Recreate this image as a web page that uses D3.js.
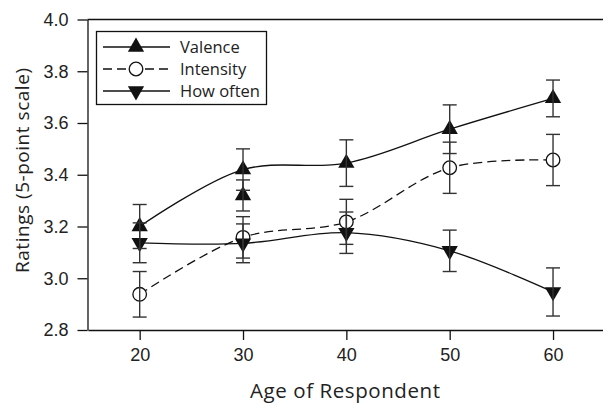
<!DOCTYPE html>
<html>
<head>
<meta charset="utf-8">
<script src="https://cdn.jsdelivr.net/npm/d3@7"></script>
<style>
	body { margin: 0; background: #fff; }
	svg { display: block; font-family: "Open Sans", sans-serif; }
</style>
</head>
<body>
<div id="container"><svg></svg></div>
<script>
// age groups and mean ratings (with +/- error)
const AGES = [20, 30, 40, 50, 60];
const VALENCE = [3.20, 3.42, 3.445, 3.576, 3.695];
const VALENCE_ERR = [0.085, 0.08, 0.09, 0.094, 0.071];
const INTENSITY = [2.938, 3.158, 3.218, 3.427, 3.457];
const INTENSITY_ERR = [0.088, 0.08, 0.087, 0.099, 0.099];
const HOWOFTEN = [3.137, 3.135, 3.176, 3.106, 2.947];
const HOWOFTEN_ERR = [0.077, 0.075, 0.08, 0.08, 0.093];
// stray second valence marker drawn at age 30
const EXTRA_AGE = [30];
const EXTRA_VALENCE = [3.32];
const EXTRA_ERR = [0.06];

const Y_TICKS = [2.8, 3.0, 3.2, 3.4, 3.6, 3.8, 4.0];
const X_TICKS = [20, 30, 40, 50, 60];
const LEGEND = ["Valence", "Intensity", "How often"];

const width = 603, height = 403;

let svg = d3.select("svg").attr("width", width).attr("height", height);

// SCALES
let x = d3.scaleLinear().domain([15, 65]).range([88, 604.7]);
let y = d3.scaleLinear().domain([2.8, 4.0]).range([330, 19.5]);

// AXES
let yAxis = svg.append("g")
	.attr("transform", `translate(${x(15) - 0.5},0)`)
	.call(d3.axisLeft(y).tickValues(Y_TICKS).tickFormat(d3.format(".1f")).tickSize(10).tickPadding(9).tickSizeOuter(0));

let xAxis = svg.append("g")
	.attr("transform", `translate(0,${y(2.8)})`)
	.call(d3.axisBottom(x).tickValues(X_TICKS).tickSize(10).tickPadding(8).tickSizeOuter(0));

[yAxis, xAxis].forEach(g => {
	g.selectAll("path, line").attr("stroke", "#111").attr("stroke-width", 1.3);
	g.selectAll("text").attr("fill", "#222").style("font-size", "18px");
});

// top frame line
svg.append("line")
	.attr("x1", x(15) - 0.5).attr("x2", width)
	.attr("y1", y(4.0)).attr("y2", y(4.0))
	.attr("stroke", "#111").attr("stroke-width", 1.3);

// titles
svg.append("text")
	.attr("x", 345).attr("y", 398)
	.attr("text-anchor", "middle")
	.attr("textLength", 190)
	.attr("fill", "#222")
	.style("font-size", "20.5px")
	.text("Age of Respondent");

svg.append("text")
	.attr("transform", "translate(29,170.5) rotate(-90)")
	.attr("text-anchor", "middle")
	.attr("textLength", 205)
	.attr("fill", "#222")
	.style("font-size", "19px")
	.text("Ratings (5-point scale)");

// SERIES
const series = [
	{ name: LEGEND[0], values: VALENCE, err: VALENCE_ERR, marker: "up", dash: null },
	{ name: LEGEND[1], values: INTENSITY, err: INTENSITY_ERR, marker: "circle", dash: "9,5" },
	{ name: LEGEND[2], values: HOWOFTEN, err: HOWOFTEN_ERR, marker: "down", dash: null }
];

let line = d3.line()
	.x(d => x(d[0]))
	.y(d => y(d[1]))
	.curve(d3.curveCatmullRom.alpha(0.5));

let triangle = d3.symbol().type(d3.symbolTriangle).size(115);
let circle = d3.symbol().type(d3.symbolCircle).size(Math.PI * 6.8 * 6.8);

function drawMarker(g, type, cx, cy) {
	if (type == "circle") {
		g.append("path")
			.attr("d", circle())
			.attr("transform", `translate(${cx},${cy})`)
			.attr("fill", "#fff")
			.attr("stroke", "#111")
			.attr("stroke-width", 1.3);
	} else {
		g.append("path")
			.attr("d", triangle())
			.attr("transform", `translate(${cx},${cy})` + (type == "down" ? " rotate(180)" : ""))
			.attr("fill", "#111");
	}
}

let linesG = svg.append("g");
let markersG = svg.append("g");
let errG = svg.append("g");

function drawErr(age, v, e) {
	let cx = x(age);
	let g = errG.append("g").attr("stroke", "#333").attr("stroke-width", 1.4);
	g.append("line").attr("x1", cx).attr("x2", cx).attr("y1", y(v + e)).attr("y2", y(v - e));
	[v + e, v - e].forEach(t => {
		g.append("line").attr("x1", cx - 7).attr("x2", cx + 7).attr("y1", y(t)).attr("y2", y(t));
	});
}

series.forEach(s => {
	let pts = AGES.map((a, i) => [a, s.values[i]]);
	linesG.append("path")
		.attr("d", line(pts))
		.attr("fill", "none")
		.attr("stroke", "#111")
		.attr("stroke-width", 1.3)
		.attr("stroke-dasharray", s.dash);
});

series.forEach(s => {
	AGES.forEach((a, i) => drawMarker(markersG, s.marker, x(a), y(s.values[i])));
});
EXTRA_AGE.forEach((a, i) => drawMarker(markersG, "up", x(a), y(EXTRA_VALENCE[i])));

series.forEach(s => {
	AGES.forEach((a, i) => drawErr(a, s.values[i], s.err[i]));
});
EXTRA_AGE.forEach((a, i) => drawErr(a, EXTRA_VALENCE[i], EXTRA_ERR[i]));

// LEGEND
let legend = svg.append("g");
legend.append("rect")
	.attr("x", 96.5).attr("y", 31.5)
	.attr("width", 170).attr("height", 73)
	.attr("fill", "#fff")
	.attr("stroke", "#111")
	.attr("stroke-width", 1.3);

series.forEach((s, i) => {
	let ly = 47 + i * 22;
	legend.append("line")
		.attr("x1", 103).attr("x2", 170)
		.attr("y1", ly).attr("y2", ly)
		.attr("stroke", "#111")
		.attr("stroke-width", 1.3)
		.attr("stroke-dasharray", s.dash);
	drawMarker(legend, s.marker, 136, ly);
	legend.append("text")
		.attr("x", 180).attr("y", ly)
		.attr("dy", "0.35em")
		.attr("fill", "#222")
		.style("font-size", "16.5px")
		.text(s.name);
});
</script>
</body>
</html>
